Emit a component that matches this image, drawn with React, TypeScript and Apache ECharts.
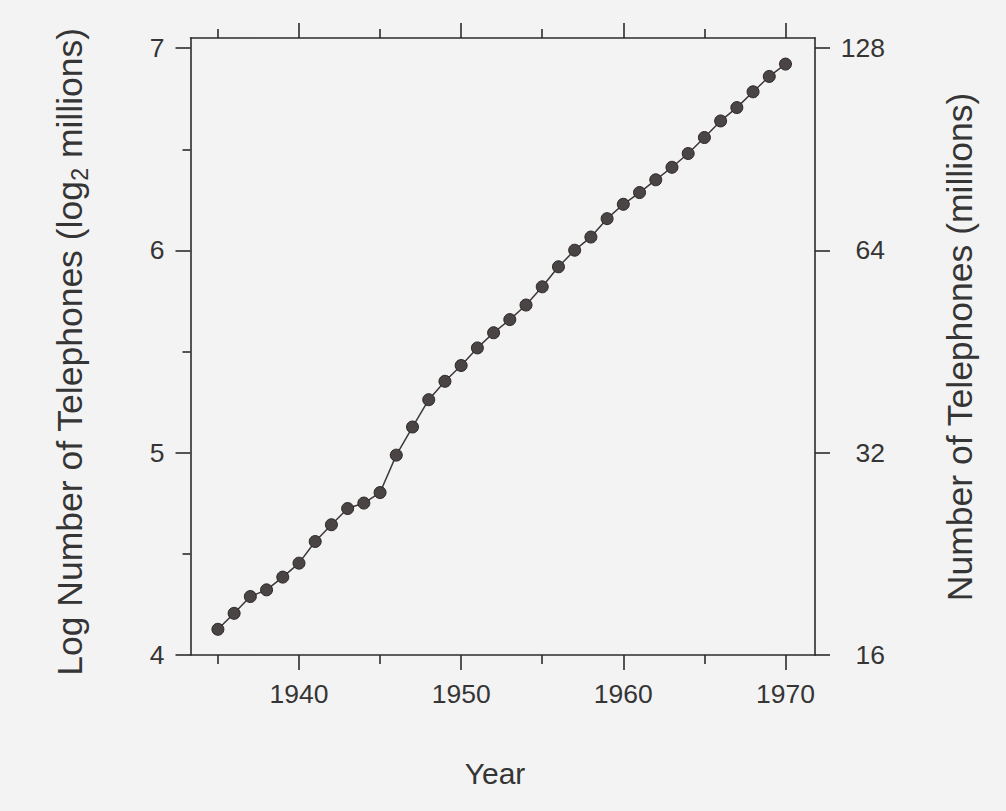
import React, { useEffect, useRef } from "react";
import * as echarts from "echarts";

const years = [
  1935, 1936, 1937, 1938, 1939, 1940, 1941, 1942, 1943, 1944, 1945, 1946,
  1947, 1948, 1949, 1950, 1951, 1952, 1953, 1954, 1955, 1956, 1957, 1958,
  1959, 1960, 1961, 1962, 1963, 1964, 1965, 1966, 1967, 1968, 1969, 1970,
];
const logPhones = [
  4.127, 4.206, 4.289, 4.322, 4.385, 4.454, 4.561, 4.644, 4.724, 4.751, 4.803, 4.988,
  5.127, 5.262, 5.353, 5.431, 5.518, 5.593, 5.658, 5.73, 5.82, 5.919, 6.001, 6.066,
  6.157, 6.228, 6.286, 6.349, 6.411, 6.479, 6.558, 6.64, 6.706, 6.784, 6.86, 6.921,
];
const majorYearTicks = [1940, 1950, 1960, 1970];
const minorYearTicks = [1935, 1945, 1955, 1965];
const leftTicks = [4, 5, 6, 7];
const leftMinorTicks = [4.5, 5.5, 6.5];
const rightTickLabels = ["16", "32", "64", "128"];

const X_MIN = 1933.31;
const X_MAX = 1971.82;
const Y_MIN = 4;
const Y_MAX = 7.05;

const INK = "#2b2b2b";
const TEXT = "#353535";
const FONT = "Liberation Sans";

export default function App() {
  const ref = useRef<HTMLDivElement>(null);
  useEffect(() => {
    const chart = echarts.init(ref.current!, null, { renderer: "svg" });
    const gridRect = { left: 190.5, top: 38, right: 191, bottom: 156, containLabel: false };
    const axisLine = { show: true, lineStyle: { color: INK, width: 1.6 } };
    const noLine = { show: false };
    const tickStyle = { color: INK, width: 1.6 };
    const labelStyle = { color: TEXT, fontFamily: FONT, fontSize: 26.5 };
    const option: any = {
      animation: false,
      backgroundColor: "#f4f3f3",
      grid: [gridRect, gridRect],
      xAxis: [
        {
          gridIndex: 0, type: "value", position: "bottom", min: X_MIN, max: X_MAX,
          axisLine, splitLine: { show: false },
          axisTick: { show: true, customValues: majorYearTicks, length: 15, lineStyle: tickStyle },
          axisLabel: { show: true, customValues: majorYearTicks, margin: 25, ...labelStyle, formatter: (v: number) => String(v) },
        },
        {
          gridIndex: 0, type: "value", position: "top", min: X_MIN, max: X_MAX,
          axisLine, splitLine: { show: false },
          axisTick: { show: true, customValues: majorYearTicks, length: 15, lineStyle: tickStyle },
          axisLabel: { show: false },
        },
        {
          gridIndex: 1, type: "value", position: "bottom", min: X_MIN, max: X_MAX,
          axisLine: noLine, splitLine: { show: false },
          axisTick: { show: true, customValues: minorYearTicks, length: 9, lineStyle: tickStyle },
          axisLabel: { show: false },
        },
        {
          gridIndex: 1, type: "value", position: "top", min: X_MIN, max: X_MAX,
          axisLine: noLine, splitLine: { show: false },
          axisTick: { show: true, customValues: minorYearTicks, length: 9, lineStyle: tickStyle },
          axisLabel: { show: false },
        },
      ],
      yAxis: [
        {
          gridIndex: 0, type: "value", position: "left", min: Y_MIN, max: Y_MAX,
          axisLine, splitLine: { show: false },
          axisTick: { show: true, customValues: leftTicks, length: 15, lineStyle: tickStyle },
          axisLabel: { show: true, customValues: leftTicks, margin: 26, ...labelStyle, formatter: (v: number) => String(v) },
        },
        {
          gridIndex: 0, type: "value", position: "right", min: Y_MIN, max: Y_MAX,
          axisLine, splitLine: { show: false },
          axisTick: { show: true, customValues: leftTicks, length: 15, lineStyle: tickStyle },
          axisLabel: {
            show: true, customValues: leftTicks, margin: 70, align: "right", ...labelStyle,
            formatter: (v: number) => rightTickLabels[leftTicks.indexOf(Math.round(v))] ?? "",
          },
        },
        {
          gridIndex: 1, type: "value", position: "left", min: Y_MIN, max: Y_MAX,
          axisLine: noLine, splitLine: { show: false },
          axisTick: { show: true, customValues: leftMinorTicks, length: 8, lineStyle: tickStyle },
          axisLabel: { show: false },
        },
      ],
      series: [
        {
          type: "line",
          xAxisIndex: 0,
          yAxisIndex: 0,
          data: years.map((y, i) => [y, logPhones[i]]),
          symbol: "circle",
          symbolSize: 12,
          lineStyle: { color: "#3d3838", width: 1.5 },
          itemStyle: { color: "#4a4444", borderColor: "#2a2626", borderWidth: 1 },
        },
      ],
      graphic: [
        {
          type: "text",
          x: 70,
          y: 352,
          rotation: Math.PI / 2,
          style: {
            text: "{a|Log Number of Telephones (log}{s|2}{a| millions)}",
            align: "center",
            verticalAlign: "middle",
            fill: TEXT,
            rich: {
              a: { fontFamily: FONT, fontSize: 35.5, lineHeight: 42, fill: TEXT },
              s: { fontFamily: FONT, fontSize: 23, lineHeight: 25, verticalAlign: "bottom", fill: TEXT },
            },
          },
        },
        {
          type: "text",
          x: 960,
          y: 347,
          rotation: Math.PI / 2,
          style: {
            text: "Number of Telephones (millions)",
            align: "center",
            verticalAlign: "middle",
            fill: TEXT,
            fontFamily: FONT,
            fontSize: 35.5,
          },
        },
        {
          type: "text",
          x: 495,
          y: 773,
          style: {
            text: "Year",
            align: "center",
            verticalAlign: "middle",
            fill: TEXT,
            fontFamily: FONT,
            fontSize: 30,
          },
        },
      ],
    };
    chart.setOption(option);
    return () => chart.dispose();
  }, []);
  return (
    <div
      ref={ref}
      style={{ position: "fixed", left: 0, top: 0, width: 1006, height: 811 }}
    />
  );
}
